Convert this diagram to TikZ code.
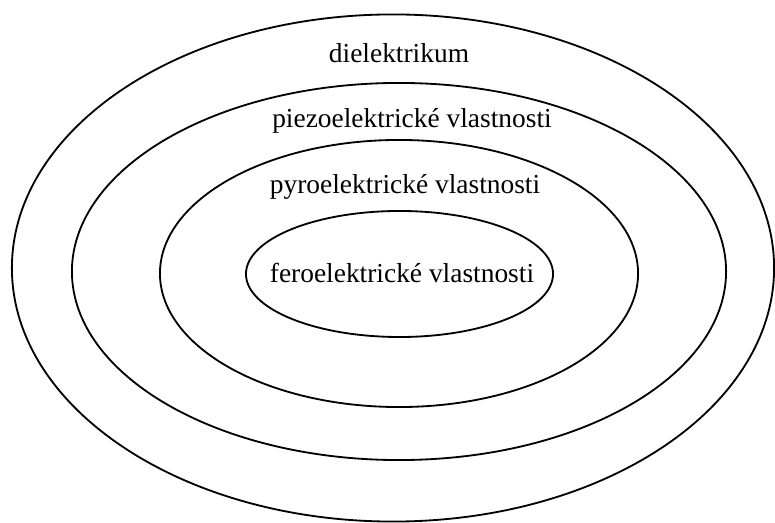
\documentclass[tikz,border=0pt]{standalone}
\usepackage{fontspec}
\setmainfont{Liberation Serif}
\usetikzlibrary{shapes.geometric, positioning}

\begin{document}
\begin{tikzpicture}[
  x=0.025cm, y=-0.025cm,
  ring/.style={draw, ellipse, line width=1.3pt, inner sep=0pt},
  prop/.style={anchor=base, inner sep=0pt,
               font=\fontsize{19.5}{23}\selectfont},
]
\useasboundingbox (0,0) rectangle (775,523);

%% Rings
\node[ring, minimum width=19.05cm, minimum height=12.675cm] (diel)  at (393,268)   {};
\node[ring, minimum width=16.35cm, minimum height=9.425cm]  (piezo) at (399,271.5) {};
\node[ring, minimum width=11.95cm, minimum height=6.675cm]  (pyro)  at (399,273.5) {};
\node[ring, minimum width=7.675cm, minimum height=3.15cm]   (fero)  at (399.5,274) {};

%% Labels
\node[prop] (dieltxt)  at (399,63)  {dielektrikum};
\node[prop] (piezotxt) at (412,128) {piezoelektrické vlastnosti};
\node[prop] (pyrotxt)  at (405,194) {pyroelektrické vlastnosti};
\node[prop] (ferotxt)  at (402,283) {feroelektrické vlastnosti};

\end{tikzpicture}
\end{document}
